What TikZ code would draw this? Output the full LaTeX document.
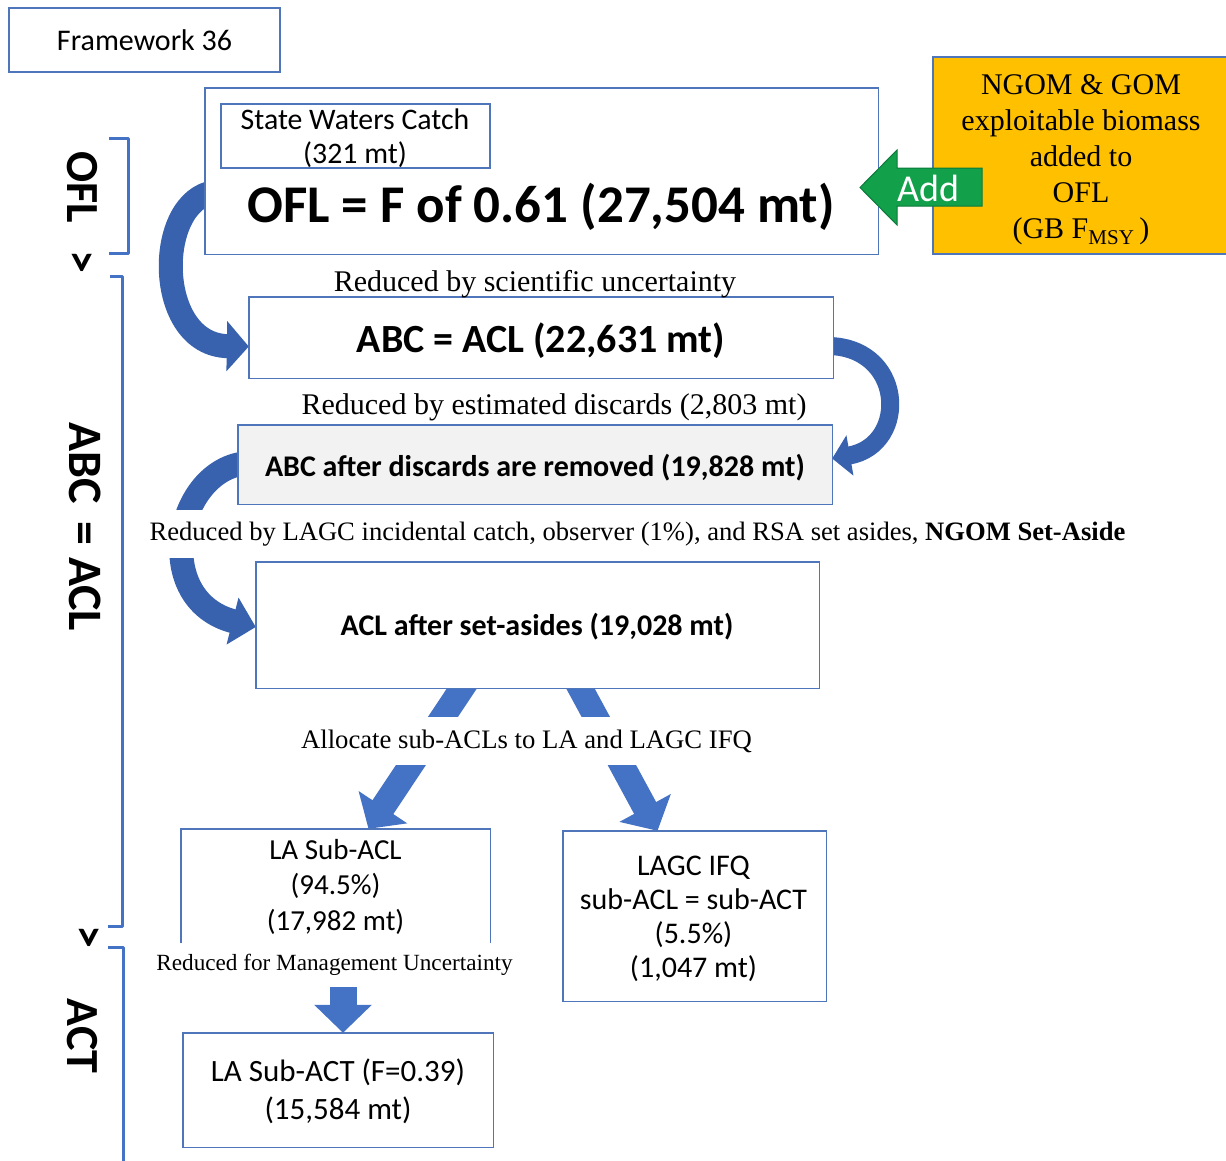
\documentclass[tikz,border=0pt]{standalone}
\usepackage{fontspec}
\setmainfont{Liberation Serif}
\newfontfamily\calfont{Carlito}
\usetikzlibrary{arrows.meta}
\definecolor{boxblue}{HTML}{4F75BA}
\definecolor{arrowblue}{HTML}{4472C4}
\definecolor{arrowdark}{HTML}{3862AE}
\definecolor{bracketblue}{HTML}{4472C4}
\definecolor{orangefill}{HTML}{FFC000}
\definecolor{addgreen}{HTML}{13A04A}
\definecolor{addgreendark}{HTML}{0B7A3A}
\definecolor{greyfill}{HTML}{F2F2F2}
\newcommand{\fsz}[2]{\fontsize{#1}{#2}\selectfont}
\begin{document}
\begin{tikzpicture}[x=1pt,y=-1pt,
  plainbox/.style={draw=boxblue, line width=1.4pt, fill=white, inner sep=0pt},
  txt/.style={inner sep=0pt, align=center},
  sanstxt/.style={txt, font=\calfont\fsz{29}{35}},
  sertxt/.style={txt, font=\fsz{29}{35}},
  gaplabel/.style={txt, fill=white, inner xsep=2pt},
  sidelabel/.style={txt, rotate=-90, font=\calfont\bfseries\fsz{46}{50}},
  bracket/.style={draw=bracketblue, line width=3pt, line join=round},
  curvy/.style={draw=arrowdark, line width=24pt},
  blockarrow/.style={draw=arrowblue, line width=25pt, -{Triangle[width=57pt,length=26pt]}}
]
\useasboundingbox (0,0) rectangle (1226,1160);

% ---------- control points for curved arrows ----------
\coordinate (c1a) at (154,200);
\coordinate (c1b) at (154,345);
\coordinate (c2a) at (905,343);
\coordinate (c2b) at (910,445);
\coordinate (c3a) at (175,468);
\coordinate (c3b) at (150,600);

% box outlines defined first so arrows can reference them
\path (541.5,171) node[minimum width=673pt, minimum height=166pt, inner sep=0pt] (ofl) {};
\path (541,337.5) node[minimum width=584pt, minimum height=81pt, inner sep=0pt] (abc) {};
\path (535,464.5) node[minimum width=594pt, minimum height=79pt, inner sep=0pt] (disc) {};
\path (537.5,625) node[minimum width=563pt, minimum height=126pt, inner sep=0pt] (acl) {};
\path (335.5,892) node[minimum width=309pt, minimum height=126pt, inner sep=0pt] (lasub) {};
\path (694.5,916) node[minimum width=263pt, minimum height=170pt, inner sep=0pt] (lagc) {};
\path (338,1090) node[minimum width=310pt, minimum height=114pt, inner sep=0pt] (sact) {};

\draw[curvy, -{Triangle[width=49pt,length=22pt]}]
  ([shift={(10pt,-21pt)}]ofl.west) .. controls (c1a) and (c1b) .. ([yshift=-9pt]abc.west);
\draw[curvy, line width=18pt, -{Triangle[width=40pt,length=18pt]}]
  ([shift={(-10pt,-8.5pt)}]abc.east) .. controls (c2a) and (c2b) .. ([yshift=6pt]disc.east);
\draw[curvy, -{Triangle[width=47pt,length=24pt]}]
  ([shift={(10pt,1.5pt)}]disc.west) .. controls (c3a) and (c3b) .. ([yshift=-2pt]acl.west);

\draw[blockarrow] ([shift={(-63.5pt,18pt)}]acl.south) -- ([xshift=33pt]lasub.north);
\draw[blockarrow] ([shift={(33pt,18pt)}]acl.south) -- ([xshift=-37pt]lagc.north);

% ---------- boxes ----------
\node[plainbox, minimum width=271pt, minimum height=64pt, font=\calfont\fsz{30}{35}] (fw) at (144.5,40) {Framework 36};

\draw[plainbox] (ofl.north west) rectangle (ofl.south east);
\node[plainbox, minimum width=269pt, minimum height=64pt] (swc) at (355.5,136) {};
\node[sanstxt, font=\calfont\fsz{29.8}{34}] (swct) at (355,138) {State Waters Catch\\(321 mt)};
\node[txt, font=\calfont\bfseries\fsz{53}{60}] (oflt) at (541,207) {OFL = F of 0.61 (27,504 mt)};

\node[draw=boxblue, line width=1.4pt, fill=orangefill, minimum width=295pt, minimum height=197pt, inner sep=0pt] (ngom) at (1080.5,155.5) {};
\node[sertxt, font=\fsz{30}{36}] (ngomt) at (1081,160) {NGOM \& GOM\\exploitable biomass\\added to\\OFL\\(GB F\textsubscript{MSY}\,)};

% Add arrow
\filldraw[fill=addgreen, draw=addgreendark, line width=1pt]
  (860,187.5) -- (897,150) -- (897,168) -- (982,168) -- (982,206) -- (897,206) -- (897,225) -- cycle;
\node[txt, text=white, font=\calfont\fsz{38}{40}] (addt) at (928,188) {Add};

\draw[plainbox] (abc.north west) rectangle (abc.south east);
\node[txt, font=\calfont\bfseries\fsz{40}{44}] (abct) at (541,341) {ABC = ACL (22,631 mt)};

\draw[plainbox, fill=greyfill] (disc.north west) rectangle (disc.south east);
\node[txt, font=\calfont\bfseries\fsz{30}{34}] (disct) at (535,468) {ABC after discards are removed (19,828 mt)};

\draw[plainbox] (acl.north west) rectangle (acl.south east);
\node[txt, font=\calfont\bfseries\fsz{30}{34}] (aclt) at (537,627) {ACL after set-asides (19,028 mt)};

\draw[plainbox] (lasub.north west) rectangle (lasub.south east);
\node[sanstxt, font=\calfont\fsz{29}{35.5}] (lasubt) at (335.5,886.5) {LA Sub-ACL\\(94.5\%)\\(17,982 mt)};

\draw[plainbox] (lagc.north west) rectangle (lagc.south east);
\node[sanstxt, font=\calfont\fsz{30}{34}] (lagct) at (693.5,919) {LAGC IFQ\\sub-ACL = sub-ACT\\(5.5\%)\\(1,047 mt)};

\draw[plainbox] (sact.north west) rectangle (sact.south east);
\node[sanstxt, font=\calfont\fsz{31}{38}] (sactt) at (338,1091.5) {LA Sub-ACT (F=0.39)\\(15,584 mt)};

% ---------- labels ----------
\node[sertxt, font=\fsz{30}{34}] (l1) at (535,284) {Reduced by scientific uncertainty};
\node[sertxt, font=\fsz{30}{34}] (l2) at (554,407) {Reduced by estimated discards (2,803 mt)};
\node[gaplabel, minimum height=48pt, font=\fsz{26.6}{30}] (l3) at (637.5,534) {Reduced by LAGC incidental catch, observer (1\%), and RSA set asides, \textbf{NGOM Set-Aside}};
\node[gaplabel, minimum height=48pt, font=\fsz{26.7}{30}] (l4) at (526.5,741) {Allocate sub-ACLs to LA and LAGC IFQ};
\node[gaplabel, minimum height=44pt, font=\fsz{23.2}{28}] (l5) at (334.5,965) {Reduced for Management Uncertainty};

\draw[blockarrow, -{Triangle[width=56pt,length=28pt]}, line width=27pt] ([xshift=8.5pt]l5.south) -- ([xshift=5pt]sact.north);

% ---------- side brackets ----------
\draw[bracket] (109,138) -- (128,138) -- (128,253) -- (109,253);
\draw[bracket] (110,276) -- (122,276) -- (122,926) -- (108,926);
\draw[bracket] (108,947) -- (123,947) -- (123,1170);

\node[sidelabel] (sofl) at (82,187) {OFL};
\node[sidelabel] (sgt1) at (80,262) {>};
\node[sidelabel, font=\calfont\bfseries\fsz{48}{50}] (sabc) at (85,527) {ABC\hspace{17pt}=\hspace{12pt}ACL};
\node[sidelabel] (sgt2) at (87,937) {>};
\node[sidelabel] (sact2) at (82,1036) {ACT};
\end{tikzpicture}
\end{document}
